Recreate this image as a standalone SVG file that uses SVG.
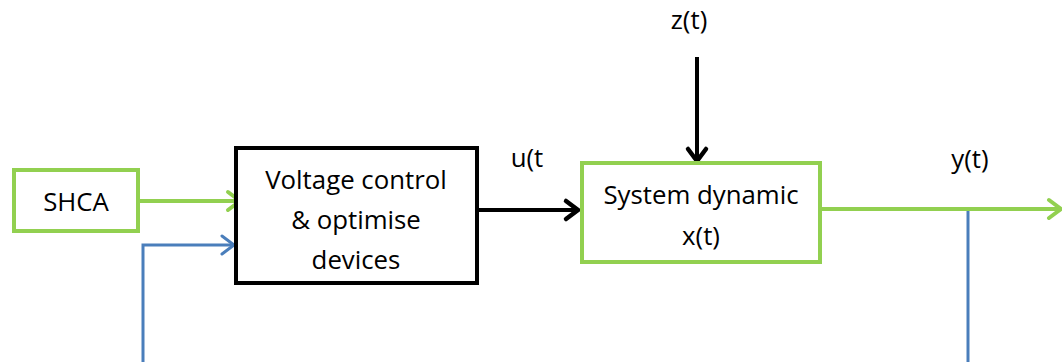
<svg xmlns="http://www.w3.org/2000/svg" width="1062" height="362" viewBox="0 0 1062 362">
<style>
text{font-family:"Open Sans","Liberation Sans",sans-serif;font-size:25.8px;fill:#000;text-anchor:middle}
.g{fill:#fff;stroke:#92D050;stroke-width:4}
.k{fill:#fff;stroke:#000;stroke-width:4}
.lg{stroke:#92D050;stroke-width:4;fill:none}
.lb{stroke:#4A7EBB;stroke-width:3;fill:none}
.lk{stroke:#000;stroke-width:4;fill:none}
</style>
<defs>
<marker id="ag" markerUnits="userSpaceOnUse" markerWidth="20" markerHeight="26" refX="16" refY="13" orient="auto"><path d="M4,4 L16,13 L4,22" fill="none" stroke="#92D050" stroke-width="4" stroke-linecap="round"/></marker>
<marker id="ab" markerUnits="userSpaceOnUse" markerWidth="20" markerHeight="26" refX="16" refY="13" orient="auto"><path d="M4,4 L16,13 L4,22" fill="none" stroke="#4A7EBB" stroke-width="3" stroke-linecap="round"/></marker>
<marker id="ak" markerUnits="userSpaceOnUse" markerWidth="20" markerHeight="26" refX="16" refY="13" orient="auto"><path d="M4,4 L16,13 L4,22" fill="none" stroke="#000" stroke-width="4.5" stroke-linecap="round"/></marker>
</defs>
<g id="connectors">
<line class="lg" x1="139" y1="201" x2="240" y2="201" marker-end="url(#ag)"/>
<polyline class="lb" points="143,362 143,245 234,245" marker-end="url(#ab)"/>
<line class="lk" x1="477" y1="210" x2="578" y2="210" marker-end="url(#ak)"/>
<line class="lk" x1="697" y1="57" x2="697" y2="161" marker-end="url(#ak)"/>
<line class="lg" x1="820" y1="209" x2="1061" y2="209" marker-end="url(#ag)"/>
<line class="lb" x1="968" y1="211" x2="968" y2="362"/>
</g>
<g id="shca">
<rect class="g" x="14" y="170" width="124" height="61"/>
<text x="76" y="211">SHCA</text>
</g>
<g id="voltage">
<rect class="k" x="236" y="148" width="241" height="135"/>
<text x="356" y="189">Voltage control</text>
<text x="356" y="229">&amp; optimise</text>
<text x="356" y="269">devices</text>
</g>
<g id="system">
<rect class="g" x="582" y="163" width="238" height="99"/>
<text x="701" y="204">System dynamic</text>
<text x="701" y="245">x(t)</text>
</g>
<g id="labels">
<text x="689" y="29">z(t)</text>
<text x="527" y="167">u(t</text>
<text x="970" y="168">y(t)</text>
</g>
</svg>
